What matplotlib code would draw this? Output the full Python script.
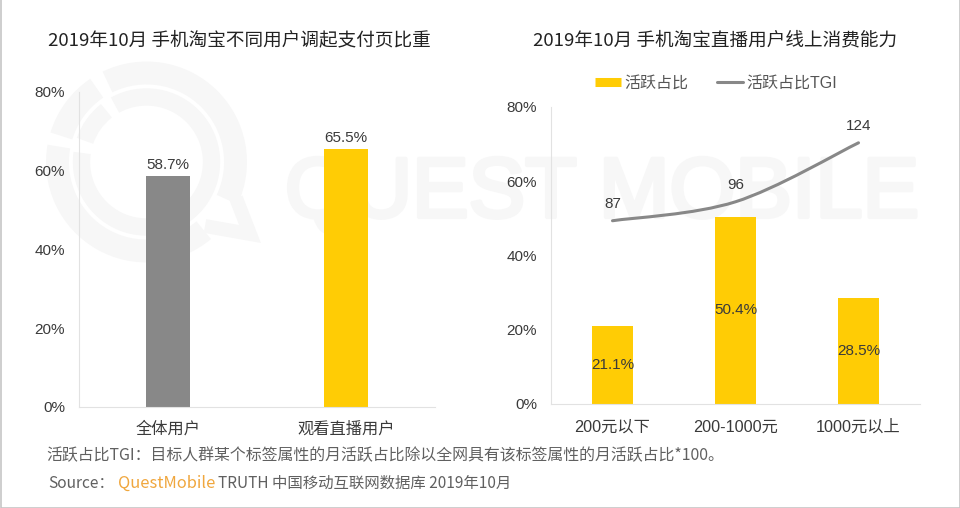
import matplotlib
matplotlib.use('Agg')
import numpy as np
import matplotlib.pyplot as plt
import matplotlib.patheffects as pe
from matplotlib.patches import Arc, PathPatch, Rectangle
from matplotlib.path import Path
from matplotlib.lines import Line2D
from matplotlib.transforms import ScaledTranslation

plt.rcParams['font.family'] = ['Liberation Sans', 'Noto Sans CJK SC']

# dados
usuarios = ['全体用户', '观看直播用户']
valores_usuarios = [58.7, 65.5]
faixas = ['200元以下', '200-1000元', '1000元以上']
valores_ativos = [21.1, 50.4, 28.5]
valores_tgi = [87, 96, 124]
ticks_y = [0, 20, 40, 60, 80]

CINZA = '#888888'
AMARELO = '#ffcc05'
TEXTO = '#3a3a3a'
EIXO = '#e2e2e2'
MARCA = '#f7f7f7'
W, H = 960, 508


def caixa(x0, x1, y_top, y_bottom):
    # converte pixels da imagem para fração da figura
    return [x0 / W, 1 - y_bottom / H, (x1 - x0) / W, (y_bottom - y_top) / H]


def curva_suave(x, y):
    # curva de Catmull-Rom passando pelos pontos, como a linha suavizada do Excel
    x = np.asarray(x, float)
    y = np.asarray(y, float)
    verts = [(x[0], y[0])]
    codes = [Path.MOVETO]
    for i in range(len(x) - 1):
        a = max(i - 1, 0)
        b = min(i + 2, len(x) - 1)
        verts.append((x[i] + (x[i + 1] - x[a]) / 6, y[i] + (y[i + 1] - y[a]) / 6))
        verts.append((x[i + 1] - (x[b] - x[i]) / 6, y[i + 1] - (y[b] - y[i]) / 6))
        verts.append((x[i + 1], y[i + 1]))
        codes += [Path.CURVE4] * 3
    return Path(verts, codes)


def ajusta_eixos(ax, pad_x):
    ax.set_ylim(0, 80)
    ax.set_yticks(ticks_y)
    ax.set_yticklabels([f'{v}%' for v in ticks_y], fontsize=11, color=TEXTO)
    ax.spines['top'].set_visible(False)
    ax.spines['right'].set_visible(False)
    ax.spines['left'].set_color(EIXO)
    ax.spines['bottom'].set_color(EIXO)
    ax.tick_params(axis='y', length=0, pad=10)
    ax.tick_params(axis='x', length=0, pad=pad_x, labelsize=11.7, labelcolor=TEXTO)
    ax.patch.set_alpha(0)
    # ajuste fino dos rótulos do eixo y
    sobe = ScaledTranslation(0, 0.1 / 72, fig.dpi_scale_trans)
    for rotulo in ax.get_yticklabels():
        rotulo.set_transform(rotulo.get_transform() + sobe)


fig = plt.figure(figsize=(9.6, 5.08), dpi=100)

# fundo: marca d'água e moldura
fundo = fig.add_axes([0, 0, 1, 1], zorder=0)
fundo.set_xlim(0, W)
fundo.set_ylim(0, H)
fundo.axis('off')
fundo.text(285, H - 195, 'QUEST MOBILE', fontsize=61, color=MARCA, va='center', ha='left',
           family='Liberation Sans', path_effects=[pe.withStroke(linewidth=3, foreground=MARCA)])
centro = (146.5, H - 162)
for d, t1, t2, lw in [(178, 170, 310, 16.5), (178, -25, 116, 16.5), (178, 124, 163, 16.5),
                      (130, 172, 479, 12.5), (130, 128, 161, 12.5)]:
    fundo.add_patch(Arc(centro, d, d, theta1=t1, theta2=t2, lw=lw, color=MARCA, capstyle='butt'))
fundo.plot([236, 250, 205], [H - 198, H - 234, H - 226], color=MARCA, lw=10,
           solid_joinstyle='miter', solid_capstyle='butt')
fundo.add_patch(Rectangle((0.5, 0.5), W - 1, H + 5, fill=False, ec='#c6c6c6', lw=1.2))

# gráfico da esquerda
ax1 = fig.add_axes(caixa(79, 435, 92, 407), zorder=2)
x1 = np.arange(len(usuarios))
ax1.bar(x1, valores_usuarios, width=44 / 178, color=[CINZA, AMARELO])
ax1.set_xlim(-0.5, 1.5)
ax1.set_xticks(x1)
ax1.set_xticklabels(usuarios)
ajusta_eixos(ax1, 10)
for xi, v in zip(x1, valores_usuarios):
    ax1.text(xi, v + 1, f'{v}%', ha='center', va='bottom', fontsize=11, color=TEXTO)

# gráfico da direita
ax2 = fig.add_axes(caixa(551, 920, 107, 404), zorder=2)
x2 = np.arange(len(faixas))
ax2.bar(x2, valores_ativos, width=41 / 123, color=AMARELO)
ax2.set_xlim(-0.5, 2.5)
ax2.set_xticks(x2)
ax2.set_xticklabels(faixas)
ajusta_eixos(ax2, 11)
for xi, v in zip(x2, valores_ativos):
    ax2.text(xi, v / 2, f'{v}%', ha='center', va='center', fontsize=11, color=TEXTO)

# TGI em eixo secundário escondido
ax3 = ax2.twinx()
ax3.set_ylim(0, 141)
ax3.axis('off')
ax3.add_patch(PathPatch(curva_suave(x2, valores_tgi), fill=False, ec=CINZA, lw=2.2,
                        capstyle='round'))
for xi, v in zip(x2, valores_tgi):
    ax3.annotate(str(v), (xi, v), xytext=(0, 7), textcoords='offset points', ha='center',
                 va='bottom', fontsize=11, color=TEXTO)

# legenda
marcadores = [Line2D([0], [0], color=AMARELO, lw=6.5, solid_capstyle='butt'),
              Line2D([0], [0], color=CINZA, lw=2.2, solid_capstyle='round')]
fig.legend(marcadores, ['活跃占比', '活跃占比TGI'], loc='center', ncol=2, frameon=False,
           bbox_to_anchor=(716 / W, 1 - 83 / H), fontsize=11.5, labelcolor='#555555',
           handlelength=1.65, handletextpad=0.2, columnspacing=1.8)

# títulos
fig.text(239 / W, 1 - 40 / H, '2019年10月 手机淘宝不同用户调起支付页比重', ha='center', va='center',
         fontsize=13.4, color='#222222', family='Noto Sans CJK SC', fontweight='medium')
fig.text(715 / W, 1 - 40 / H, '2019年10月 手机淘宝直播用户线上消费能力', ha='center', va='center',
         fontsize=13.4, color='#222222', family='Noto Sans CJK SC', fontweight='medium')

# notas de rodapé
fig.text(46 / W, 1 - 456 / H, '活跃占比TGI：目标人群某个标签属性的月活跃占比除以全网具有该标签属性的月活跃占比*100。',
         ha='left', va='center', fontsize=11.45, color='#606060', family='Noto Sans CJK SC')
fig.text(48 / W, 1 - 483 / H, 'Source：', ha='left', va='center', fontsize=11.2, color='#606060',
         family='Noto Sans CJK SC')
fig.text(118 / W, 1 - 483 / H, 'QuestMobile', ha='left', va='center', fontsize=11.9, color='#f0a73e',
         family='Noto Sans CJK SC')
fig.text(218 / W, 1 - 483 / H, 'TRUTH 中国移动互联网数据库 2019年10月', ha='left', va='center',
         fontsize=11.1, color='#606060', family='Noto Sans CJK SC')

fig.savefig('out.png', dpi=100)
